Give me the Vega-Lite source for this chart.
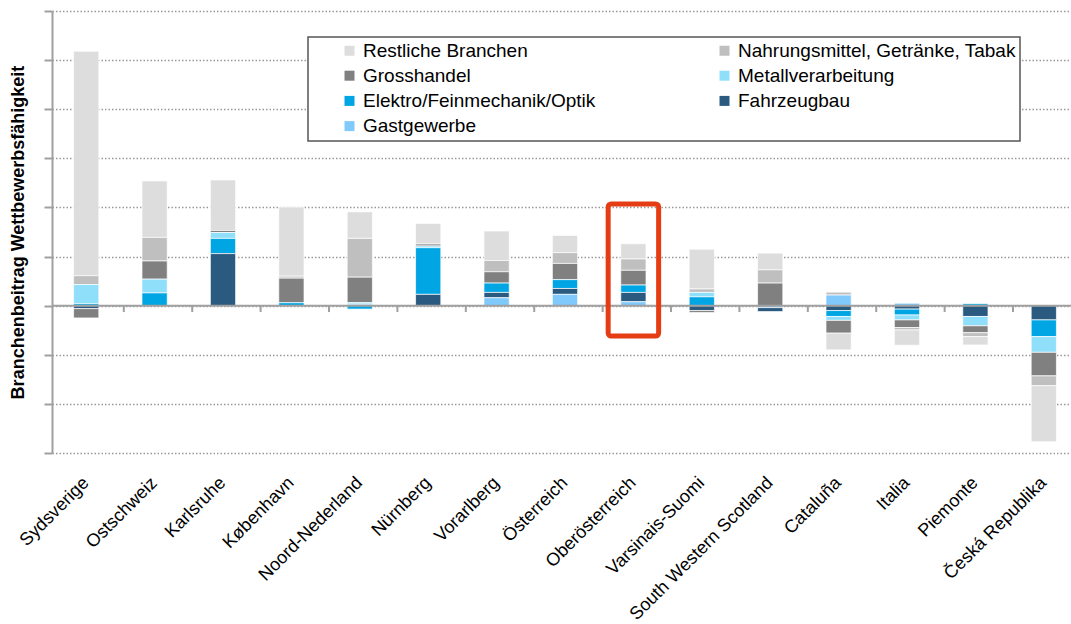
{
  "$schema": "https://vega.github.io/schema/vega-lite/v6.json",
  "width": 1019,
  "height": 442,
  "autosize": {"type": "none"},
  "padding": {"left": 52, "top": 11, "right": 0, "bottom": 171},
  "background": "white",
  "config": {
    "view": {"stroke": null},
    "font": "Liberation Sans",
    "legend": {"strokeWidth": 1.5}
  },
  "datasets": {
    "bars": [
      {"Region": "Sydsverige", "Branche": "Restliche Branchen", "Wert": 4.57},
      {"Region": "Sydsverige", "Branche": "Nahrungsmittel, Getränke, Tabak", "Wert": 0.18},
      {"Region": "Sydsverige", "Branche": "Metallverarbeitung", "Wert": 0.39},
      {"Region": "Sydsverige", "Branche": "Elektro/Feinmechanik/Optik", "Wert": 0.04},
      {"Region": "Sydsverige", "Branche": "Fahrzeugbau", "Wert": -0.06},
      {"Region": "Sydsverige", "Branche": "Grosshandel", "Wert": -0.19},
      {"Region": "Ostschweiz", "Branche": "Restliche Branchen", "Wert": 1.15},
      {"Region": "Ostschweiz", "Branche": "Nahrungsmittel, Getränke, Tabak", "Wert": 0.48},
      {"Region": "Ostschweiz", "Branche": "Grosshandel", "Wert": 0.37},
      {"Region": "Ostschweiz", "Branche": "Metallverarbeitung", "Wert": 0.28},
      {"Region": "Ostschweiz", "Branche": "Elektro/Feinmechanik/Optik", "Wert": 0.26},
      {"Region": "Karlsruhe", "Branche": "Restliche Branchen", "Wert": 1.03},
      {"Region": "Karlsruhe", "Branche": "Grosshandel", "Wert": 0.04},
      {"Region": "Karlsruhe", "Branche": "Metallverarbeitung", "Wert": 0.12},
      {"Region": "Karlsruhe", "Branche": "Elektro/Feinmechanik/Optik", "Wert": 0.31},
      {"Region": "Karlsruhe", "Branche": "Fahrzeugbau", "Wert": 1.06},
      {"Region": "København", "Branche": "Restliche Branchen", "Wert": 1.41},
      {"Region": "København", "Branche": "Nahrungsmittel, Getränke, Tabak", "Wert": 0.04},
      {"Region": "København", "Branche": "Grosshandel", "Wert": 0.5},
      {"Region": "København", "Branche": "Elektro/Feinmechanik/Optik", "Wert": 0.06},
      {"Region": "Noord-Nederland", "Branche": "Restliche Branchen", "Wert": 0.54},
      {"Region": "Noord-Nederland", "Branche": "Nahrungsmittel, Getränke, Tabak", "Wert": 0.79},
      {"Region": "Noord-Nederland", "Branche": "Grosshandel", "Wert": 0.52},
      {"Region": "Noord-Nederland", "Branche": "Metallverarbeitung", "Wert": 0.03},
      {"Region": "Noord-Nederland", "Branche": "Gastgewerbe", "Wert": 0.03},
      {"Region": "Noord-Nederland", "Branche": "Elektro/Feinmechanik/Optik", "Wert": -0.07},
      {"Region": "Nürnberg", "Branche": "Restliche Branchen", "Wert": 0.42},
      {"Region": "Nürnberg", "Branche": "Grosshandel", "Wert": 0.04},
      {"Region": "Nürnberg", "Branche": "Metallverarbeitung", "Wert": 0.035},
      {"Region": "Nürnberg", "Branche": "Elektro/Feinmechanik/Optik", "Wert": 0.95},
      {"Region": "Nürnberg", "Branche": "Fahrzeugbau", "Wert": 0.23},
      {"Region": "Vorarlberg", "Branche": "Restliche Branchen", "Wert": 0.6},
      {"Region": "Vorarlberg", "Branche": "Nahrungsmittel, Getränke, Tabak", "Wert": 0.23},
      {"Region": "Vorarlberg", "Branche": "Grosshandel", "Wert": 0.23},
      {"Region": "Vorarlberg", "Branche": "Elektro/Feinmechanik/Optik", "Wert": 0.19},
      {"Region": "Vorarlberg", "Branche": "Fahrzeugbau", "Wert": 0.11},
      {"Region": "Vorarlberg", "Branche": "Gastgewerbe", "Wert": 0.16},
      {"Region": "Österreich", "Branche": "Restliche Branchen", "Wert": 0.35},
      {"Region": "Österreich", "Branche": "Nahrungsmittel, Getränke, Tabak", "Wert": 0.22},
      {"Region": "Österreich", "Branche": "Grosshandel", "Wert": 0.33},
      {"Region": "Österreich", "Branche": "Elektro/Feinmechanik/Optik", "Wert": 0.18},
      {"Region": "Österreich", "Branche": "Fahrzeugbau", "Wert": 0.12},
      {"Region": "Österreich", "Branche": "Gastgewerbe", "Wert": 0.23},
      {"Region": "Oberösterreich", "Branche": "Restliche Branchen", "Wert": 0.31},
      {"Region": "Oberösterreich", "Branche": "Nahrungsmittel, Getränke, Tabak", "Wert": 0.23},
      {"Region": "Oberösterreich", "Branche": "Grosshandel", "Wert": 0.3},
      {"Region": "Oberösterreich", "Branche": "Elektro/Feinmechanik/Optik", "Wert": 0.15},
      {"Region": "Oberösterreich", "Branche": "Fahrzeugbau", "Wert": 0.19},
      {"Region": "Oberösterreich", "Branche": "Gastgewerbe", "Wert": 0.08},
      {"Region": "Varsinais-Suomi", "Branche": "Restliche Branchen", "Wert": 0.81},
      {"Region": "Varsinais-Suomi", "Branche": "Nahrungsmittel, Getränke, Tabak", "Wert": 0.07},
      {"Region": "Varsinais-Suomi", "Branche": "Metallverarbeitung", "Wert": 0.09},
      {"Region": "Varsinais-Suomi", "Branche": "Elektro/Feinmechanik/Optik", "Wert": 0.18},
      {"Region": "Varsinais-Suomi", "Branche": "Fahrzeugbau", "Wert": -0.1},
      {"Region": "Varsinais-Suomi", "Branche": "Grosshandel", "Wert": -0.04},
      {"Region": "South Western Scotland", "Branche": "Restliche Branchen", "Wert": 0.34},
      {"Region": "South Western Scotland", "Branche": "Nahrungsmittel, Getränke, Tabak", "Wert": 0.27},
      {"Region": "South Western Scotland", "Branche": "Grosshandel", "Wert": 0.46},
      {"Region": "South Western Scotland", "Branche": "Gastgewerbe", "Wert": -0.04},
      {"Region": "South Western Scotland", "Branche": "Fahrzeugbau", "Wert": -0.08},
      {"Region": "Cataluña", "Branche": "Gastgewerbe", "Wert": 0.22},
      {"Region": "Cataluña", "Branche": "Nahrungsmittel, Getränke, Tabak", "Wert": 0.055},
      {"Region": "Cataluña", "Branche": "Fahrzeugbau", "Wert": -0.1},
      {"Region": "Cataluña", "Branche": "Elektro/Feinmechanik/Optik", "Wert": -0.12},
      {"Region": "Cataluña", "Branche": "Metallverarbeitung", "Wert": -0.08},
      {"Region": "Cataluña", "Branche": "Grosshandel", "Wert": -0.26},
      {"Region": "Cataluña", "Branche": "Restliche Branchen", "Wert": -0.34},
      {"Region": "Italia", "Branche": "Gastgewerbe", "Wert": 0.05},
      {"Region": "Italia", "Branche": "Fahrzeugbau", "Wert": -0.07},
      {"Region": "Italia", "Branche": "Elektro/Feinmechanik/Optik", "Wert": -0.12},
      {"Region": "Italia", "Branche": "Metallverarbeitung", "Wert": -0.1},
      {"Region": "Italia", "Branche": "Grosshandel", "Wert": -0.155},
      {"Region": "Italia", "Branche": "Nahrungsmittel, Getränke, Tabak", "Wert": -0.05},
      {"Region": "Italia", "Branche": "Restliche Branchen", "Wert": -0.31},
      {"Region": "Piemonte", "Branche": "Elektro/Feinmechanik/Optik", "Wert": 0.04},
      {"Region": "Piemonte", "Branche": "Fahrzeugbau", "Wert": -0.22},
      {"Region": "Piemonte", "Branche": "Metallverarbeitung", "Wert": -0.19},
      {"Region": "Piemonte", "Branche": "Grosshandel", "Wert": -0.14},
      {"Region": "Piemonte", "Branche": "Nahrungsmittel, Getränke, Tabak", "Wert": -0.08},
      {"Region": "Piemonte", "Branche": "Restliche Branchen", "Wert": -0.17},
      {"Region": "Česká Republika", "Branche": "Fahrzeugbau", "Wert": -0.29},
      {"Region": "Česká Republika", "Branche": "Elektro/Feinmechanik/Optik", "Wert": -0.34},
      {"Region": "Česká Republika", "Branche": "Metallverarbeitung", "Wert": -0.32},
      {"Region": "Česká Republika", "Branche": "Grosshandel", "Wert": -0.48},
      {"Region": "Česká Republika", "Branche": "Nahrungsmittel, Getränke, Tabak", "Wert": -0.2},
      {"Region": "Česká Republika", "Branche": "Restliche Branchen", "Wert": -1.14}
    ],
    "ticks": [
      {"Region": "Ostschweiz"}, {"Region": "Karlsruhe"}, {"Region": "København"},
      {"Region": "Noord-Nederland"}, {"Region": "Nürnberg"}, {"Region": "Vorarlberg"},
      {"Region": "Österreich"}, {"Region": "Oberösterreich"}, {"Region": "Varsinais-Suomi"},
      {"Region": "South Western Scotland"}, {"Region": "Cataluña"}, {"Region": "Italia"},
      {"Region": "Piemonte"}, {"Region": "Česká Republika"}
    ],
    "highlight": [{"Region": "Oberösterreich", "oben": 2.07, "unten": -0.62}]
  },
  "layer": [
    {
      "data": {"name": "bars"},
      "transform": [
        {"calculate": "indexof(['Gastgewerbe','Fahrzeugbau','Elektro/Feinmechanik/Optik','Metallverarbeitung','Grosshandel','Nahrungsmittel, Getränke, Tabak','Restliche Branchen'], datum.Branche)", "as": "Reihenfolge"}
      ],
      "mark": {"type": "bar", "width": {"band": 0.41}, "stroke": "white", "strokeWidth": 0.7},
      "encoding": {
        "x": {
          "field": "Region", "type": "nominal",
          "scale": {"domain": ["Sydsverige", "Ostschweiz", "Karlsruhe", "København", "Noord-Nederland", "Nürnberg", "Vorarlberg", "Österreich", "Oberösterreich", "Varsinais-Suomi", "South Western Scotland", "Cataluña", "Italia", "Piemonte", "Česká Republika"], "range": [0, 1026]},
          "axis": {"title": null, "domain": false, "ticks": false, "grid": false, "labelAngle": -45, "labelAlign": "right", "labelBaseline": "middle", "labelFontSize": 18, "labelColor": "black", "labelPadding": 27, "labelOverlap": false, "labelLimit": 400}
        },
        "y": {
          "field": "Wert", "type": "quantitative", "stack": "zero",
          "scale": {"domain": [-3, 6], "nice": false, "zero": false},
          "axis": {"title": "Branchenbeitrag Wettbewerbsfähigkeit", "values": [-3, -2, -1, 0, 1, 2, 3, 4, 5, 6], "labels": false, "grid": true, "gridColor": "#999999", "gridDash": [1.5, 2], "gridWidth": 1.5, "domainColor": "#a0a0a0", "domainWidth": 2, "tickColor": "#a0a0a0", "tickWidth": 2, "tickSize": 8, "titleFontSize": 18, "titleFontWeight": "bold", "titleColor": "black", "titleX": -34, "titleY": 221, "titleAngle": -90, "titleBaseline": "middle", "titleAlign": "center"}
        },
        "color": {
          "field": "Branche", "type": "nominal",
          "scale": {
            "domain": ["Restliche Branchen", "Nahrungsmittel, Getränke, Tabak", "Grosshandel", "Metallverarbeitung", "Elektro/Feinmechanik/Optik", "Fahrzeugbau", "Gastgewerbe"],
            "range": ["#dddddd", "#bfbfc0", "#808080", "#8fdffb", "#00a5e3", "#2b5a80", "#80c9fc"]
          },
          "legend": {
            "orient": "none", "legendX": 256, "legendY": 26, "columns": 2, "direction": "horizontal",
            "title": "\u00a0", "titleOrient": "left", "titlePadding": 28, "titleFontSize": 17,
            "labelFontSize": 19, "labelColor": "black", "labelOffset": 4, "labelLimit": 500,
            "symbolType": "square", "symbolSize": 100, "symbolStrokeWidth": 0,
            "rowPadding": 5.2, "columnPadding": 119, "padding": 4,
            "strokeColor": "#555555", "fillColor": "white"
          }
        },
        "order": {"field": "Reihenfolge", "type": "quantitative"}
      }
    },
    {
      "data": {"name": "ticks"},
      "mark": {"type": "rule", "color": "#a0a0a0", "strokeWidth": 2},
      "encoding": {
        "x": {"field": "Region", "type": "nominal", "bandPosition": 0},
        "y": {"datum": 0, "type": "quantitative"},
        "y2": {"datum": -0.13}
      }
    },
    {
      "data": {"values": [{"Nulllinie": 0}]},
      "mark": {"type": "rule", "color": "#a0a0a0", "strokeWidth": 2},
      "encoding": {
        "y": {"field": "Nulllinie", "type": "quantitative"}
      }
    },
    {
      "data": {"name": "highlight"},
      "mark": {"type": "bar", "width": {"band": 0.82}, "fill": null, "fillOpacity": 0, "stroke": "#e53c14", "strokeWidth": 5, "cornerRadius": 3},
      "encoding": {
        "x": {"field": "Region", "type": "nominal"},
        "y": {"field": "oben", "type": "quantitative"},
        "y2": {"field": "unten"}
      }
    }
  ]
}
